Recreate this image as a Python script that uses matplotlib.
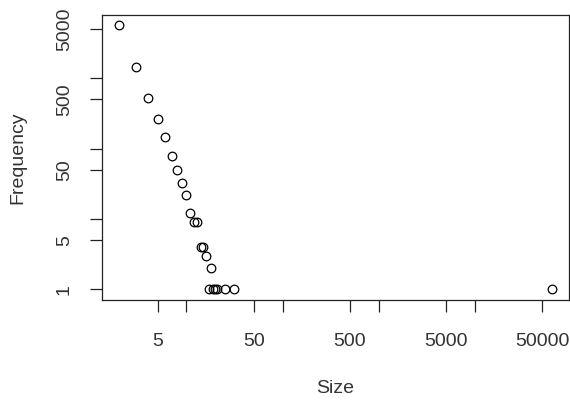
import matplotlib.pyplot as plt
from matplotlib.ticker import FixedLocator, FixedFormatter, NullLocator

plt.rcParams['font.family'] = ['Liberation Sans', 'DejaVu Sans']

# cluster sizes and how often each occurs
size = [2, 3, 4, 5, 6, 7, 8, 9, 10, 11, 12, 13, 14, 15, 16, 18,
        17, 19, 20, 21, 25, 31, 63000]
freq = [5600, 1450, 520, 260, 144, 79, 50, 32, 22, 12, 9, 9, 4, 4, 3, 2,
        1, 1, 1, 1, 1, 1, 1]

x_ticks = [5, 10, 50, 100, 500, 1000, 5000, 10000, 50000]
x_labels = ['5', '', '50', '', '500', '', '5000', '', '50000']
y_ticks = [1, 5, 10, 50, 100, 500, 1000, 5000]
y_labels = ['1', '5', '', '50', '', '500', '', '5000']

fig = plt.figure(figsize=(5.7, 4.01), dpi=100)
ax = fig.add_axes([0.179, 0.252, 0.819, 0.711])

ax.plot(size, freq, linestyle='none', marker='o', markersize=6.2,
        markerfacecolor='none', markeredgecolor='black', markeredgewidth=0.9)

ax.set_xscale('log')
ax.set_yscale('log')
ax.margins(0.04)

ax.xaxis.set_major_locator(FixedLocator(x_ticks))
ax.xaxis.set_major_formatter(FixedFormatter(x_labels))
ax.xaxis.set_minor_locator(NullLocator())
ax.yaxis.set_major_locator(FixedLocator(y_ticks))
ax.yaxis.set_major_formatter(FixedFormatter(y_labels))
ax.yaxis.set_minor_locator(NullLocator())

ax.tick_params(axis='both', direction='out', length=8.5, width=0.9,
               labelsize=14, color='#222222', labelcolor='#333333')
ax.tick_params(axis='x', pad=15)
ax.tick_params(axis='y', pad=12.5)
for lbl in ax.get_yticklabels():
    lbl.set_rotation(90)
    lbl.set_va('center')

for sp in ax.spines.values():
    sp.set_linewidth(0.9)
    sp.set_color('#222222')

ax.set_xlabel('Size', fontsize=14, color='#333333', labelpad=22)
ax.set_ylabel('Frequency', fontsize=14, color='#333333', labelpad=21)

fig.savefig('out.png', dpi=100)
